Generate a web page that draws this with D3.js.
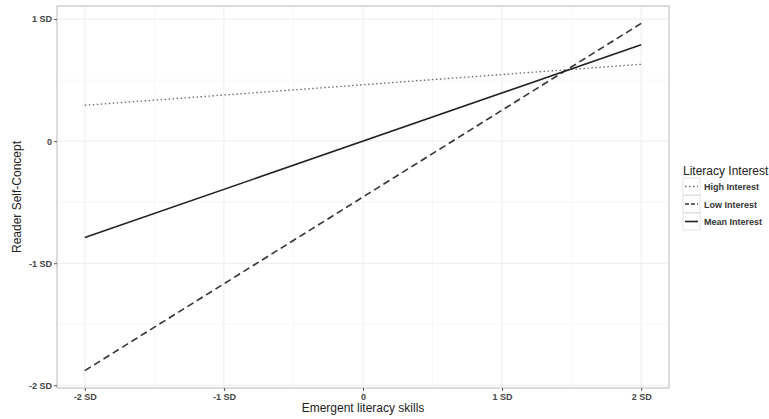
<!DOCTYPE html>
<html>
<head>
<meta charset="utf-8">
<script src="https://cdn.jsdelivr.net/npm/d3@7"></script>
<style>
  body { margin: 0; background: #fff; }
  svg { font-family: "Liberation Sans", Arial, sans-serif; }
</style>
</head>
<body>
<div id="chart"></div>
<script>
// values (in SD units)
var xEnds = [-2, 2];
var xTicks = [-2, -1, 0, 1, 2];
var xTickLabels = ["-2 SD", "-1 SD", "0", "1 SD", "2 SD"];
var yTicks = [-2, -1, 0, 1];
var yTickLabels = ["-2 SD", "-1 SD", "0", "1 SD"];
var seriesNames = ["High Interest", "Low Interest", "Mean Interest"];
var highValues = [0.294, 0.63];
var lowValues = [-1.88, 0.965];
var meanValues = [-0.79, 0.79];

var width = 769, height = 419;
var margin = ({ top: 6, right: 100, bottom: 31, left: 57 });

var series = [
  { name: seriesNames[0], values: highValues, dash: "1.5,2.5", w: 1.3, color: "#666" },
  { name: seriesNames[1], values: lowValues, dash: "7,4", w: 1.6, color: "#333" },
  { name: seriesNames[2], values: meanValues, dash: null, w: 1.6, color: "#222" }
];

var svg = d3.select("#chart").append("svg")
    .attr("width", width)
    .attr("height", height);

// ggplot style 5% expansion
var expand = function (ext) { var d = (ext[1] - ext[0]) * 0.05; return [ext[0] - d, ext[1] + d]; };
var allY = series.map(s => s.values).flat();

var x = d3.scaleLinear()
    .domain(expand(d3.extent(xEnds)))
    .range([margin.left, width - margin.right]);
var y = d3.scaleLinear()
    .domain(expand(d3.extent(allY)))
    .range([height - margin.bottom, margin.top]);

var pl = x.range()[0], pr = x.range()[1], pt = y.range()[1], pb = y.range()[0];

// grid
var grid = svg.append("g");
var minorX = xTicks.slice(0, -1).map(v => v + 0.5);
var minorY = yTicks.slice(0, -1).map(v => v + 0.5);
grid.selectAll(".mx").data(minorX).enter().append("line")
    .attr("x1", d => x(d)).attr("x2", d => x(d)).attr("y1", pt).attr("y2", pb)
    .attr("stroke", "#f5f5f5").attr("stroke-width", 0.8);
grid.selectAll(".my").data(minorY).enter().append("line")
    .attr("y1", d => y(d)).attr("y2", d => y(d)).attr("x1", pl).attr("x2", pr)
    .attr("stroke", "#f5f5f5").attr("stroke-width", 0.8);
grid.selectAll(".gx").data(xTicks).enter().append("line")
    .attr("x1", d => x(d)).attr("x2", d => x(d)).attr("y1", pt).attr("y2", pb)
    .attr("stroke", "#ececec").attr("stroke-width", 1);
grid.selectAll(".gy").data(yTicks).enter().append("line")
    .attr("y1", d => y(d)).attr("y2", d => y(d)).attr("x1", pl).attr("x2", pr)
    .attr("stroke", "#ececec").attr("stroke-width", 1);

// lines
var line = d3.line()
    .x((d, i) => x(xEnds[i]))
    .y(d => y(d));

svg.append("g")
    .selectAll("path")
    .data(series)
    .enter().append("path")
    .attr("d", d => line(d.values))
    .attr("fill", "none")
    .attr("stroke", d => d.color)
    .attr("stroke-width", d => d.w)
    .attr("stroke-dasharray", d => d.dash);

// panel border
svg.append("rect")
    .attr("x", pl).attr("y", pt)
    .attr("width", pr - pl).attr("height", pb - pt)
    .attr("fill", "none").attr("stroke", "#b8b8b8").attr("stroke-width", 1);

// axes
var xAxis = g => g
    .attr("transform", `translate(0, ${pb})`)
    .call(d3.axisBottom(x).tickValues(xTicks).tickFormat((d, i) => xTickLabels[i]).tickSize(3).tickPadding(3))
    .call(g => g.select(".domain").remove())
    .call(g => g.selectAll("line").attr("stroke", "#555"))
    .call(g => g.selectAll("text").attr("fill", "#444").style("font-size", "9px").style("font-weight", "bold"));

var yAxis = g => g
    .attr("transform", `translate(${pl}, 0)`)
    .call(d3.axisLeft(y).tickValues(yTicks).tickFormat((d, i) => yTickLabels[i]).tickSize(3).tickPadding(2))
    .call(g => g.select(".domain").remove())
    .call(g => g.selectAll("line").attr("stroke", "#555"))
    .call(g => g.selectAll("text").attr("fill", "#444").style("font-size", "9px").style("font-weight", "bold"));

svg.append("g").call(xAxis);
svg.append("g").call(yAxis);

// axis titles
svg.append("text")
    .attr("x", x(0)).attr("y", 412)
    .attr("text-anchor", "middle")
    .attr("fill", "#222")
    .style("font-size", "12px")
    .text("Emergent literacy skills");

svg.append("text")
    .attr("transform", `translate(21, ${(pt + pb) / 2}) rotate(-90)`)
    .attr("text-anchor", "middle")
    .attr("fill", "#222")
    .style("font-size", "12px")
    .text("Reader Self-Concept");

// legend
var legend = svg.append("g").attr("transform", "translate(683, 0)");
legend.append("text")
    .attr("x", 0).attr("y", 175)
    .attr("fill", "#222")
    .style("font-size", "12px")
    .text("Literacy Interest");

var keys = legend.selectAll("g.key")
    .data(series)
    .enter().append("g")
    .attr("class", "key")
    .attr("transform", (d, i) => `translate(0, ${178 + i * 17.5})`);

keys.append("rect")
    .attr("width", 17).attr("height", 17)
    .attr("fill", "#fff").attr("stroke", "#ddd").attr("stroke-width", 0.8);
keys.append("line")
    .attr("x1", 2).attr("x2", 15).attr("y1", 8.5).attr("y2", 8.5)
    .attr("stroke", d => d.color)
    .attr("stroke-width", d => d.w)
    .attr("stroke-dasharray", d => d.dash ? (d.dash === "7,4" ? "4,2" : d.dash) : null);
keys.append("text")
    .attr("x", 21).attr("y", 12)
    .attr("fill", "#333")
    .style("font-size", "9px")
    .style("font-weight", "bold")
    .text(d => d.name);
</script>
</body>
</html>
